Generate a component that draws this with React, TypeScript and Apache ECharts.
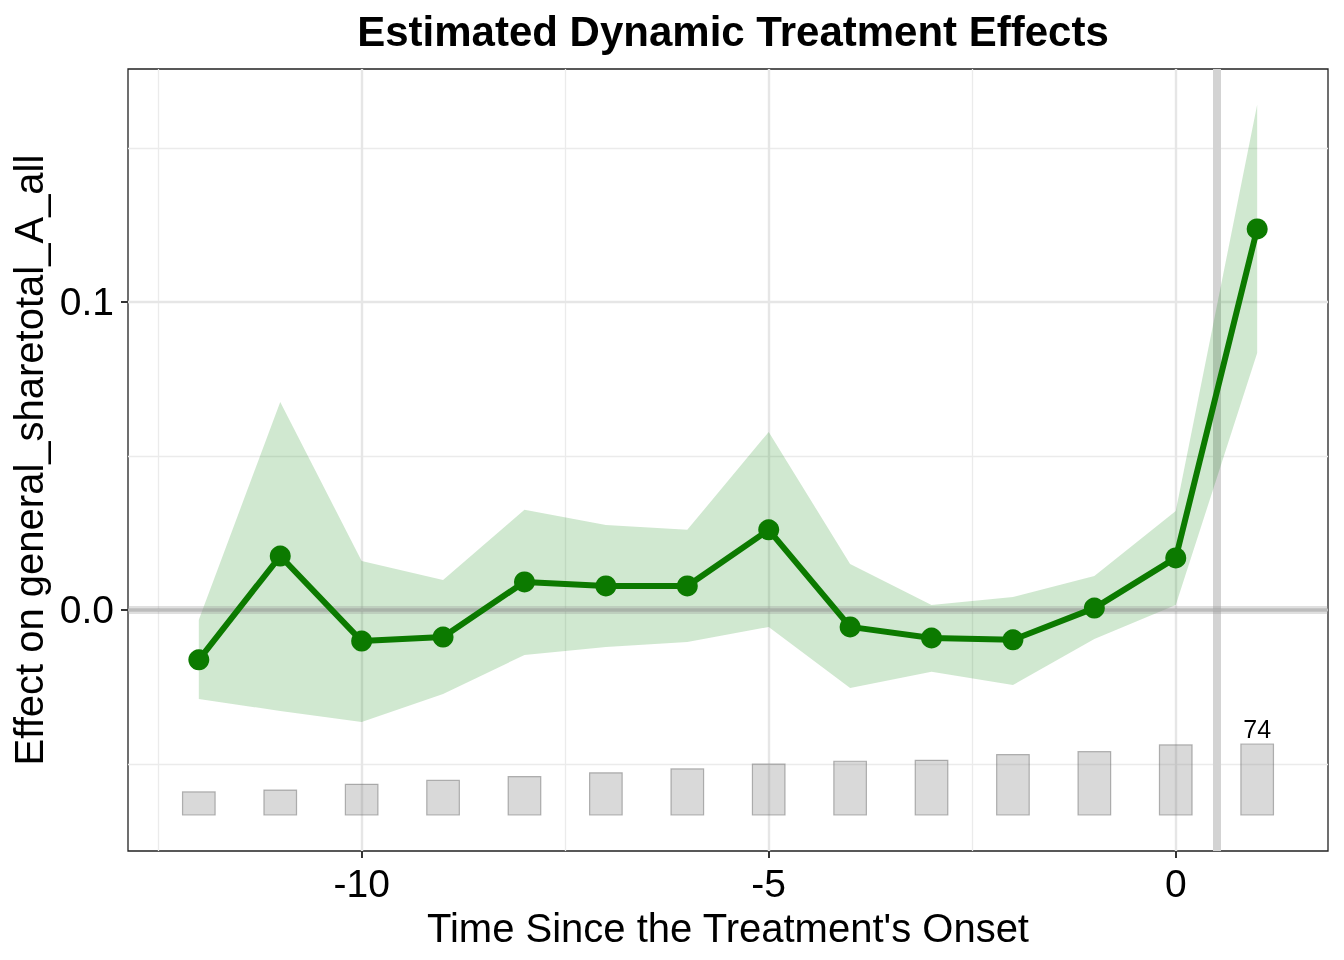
import React, { useEffect, useRef } from "react";
import * as echarts from "echarts";

const times = [-12, -11, -10, -9, -8, -7, -6, -5, -4, -3, -2, -1, 0, 1];
const att = [-0.0162, 0.0175, -0.0101, -0.0088, 0.0091, 0.0078, 0.0078, 0.026, -0.0055, -0.0091, -0.0097, 0.0006, 0.0169, 0.1237];
const ciUpper = [-0.0032, 0.0675, 0.0159, 0.0097, 0.0325, 0.0276, 0.026, 0.0578, 0.0149, 0.0016, 0.0042, 0.011, 0.0321, 0.164];
const ciLower = [-0.0289, -0.0328, -0.0364, -0.0273, -0.0146, -0.012, -0.0104, -0.0055, -0.0253, -0.0201, -0.0244, -0.0094, 0.0016, 0.0834];
const counts = [24, 26, 32, 36, 40, 44, 48, 53, 56, 57, 63, 66, 73, 74];

const xTicks = [-10, -5, 0];
const yTicks = [0, 0.1];
const xMinor = [-12.5, -7.5, -2.5];
const yMinor = [-0.05, 0.05, 0.15];
const treatLine = 0.5;
const zeroLine = 0;

const FONT = "'Liberation Sans', Arial, Helvetica, sans-serif";

export default function App() {
  const ref = useRef<HTMLDivElement>(null);
  useEffect(() => {
    if (!ref.current) return;
    const chart = echarts.init(ref.current, undefined, { renderer: "svg" });
    const maxCount = Math.max(...counts);
    const maxIdx = counts.lastIndexOf(maxCount);
    const gridLines = (vals: number[], axis: "xAxis" | "yAxis", w: number, c: string) =>
      vals.map((v) => ({ [axis]: v, lineStyle: { color: c, width: w, type: "solid" } }));

    chart.setOption({
      animation: false,
      title: {
        text: "Estimated Dynamic Treatment Effects",
        left: 728,
        textAlign: "center",
        top: 5,
        textStyle: { fontFamily: FONT, fontWeight: "bold", fontSize: 42, color: "#000" },
      },
      grid: {
        left: 128,
        right: 16,
        top: 69,
        bottom: 109,
        show: true,
        borderColor: "#222",
        borderWidth: 1.3,
        backgroundColor: "#fff",
      },
      xAxis: {
        type: "value",
        min: -12.87,
        max: 1.87,
        name: "Time Since the Treatment's Onset",
        nameLocation: "middle",
        nameGap: 50,
        nameTextStyle: { fontFamily: FONT, fontSize: 40, color: "#000" },
        axisLine: { show: false, onZero: false },
        axisTick: { show: true, length: 7, lineStyle: { color: "#333", width: 2 }, customValues: xTicks },
        axisLabel: { fontFamily: FONT, fontSize: 39, color: "#000", margin: 13, customValues: xTicks },
        splitLine: { show: false },
      },
      yAxis: [
        {
          type: "value",
          min: -0.07825,
          max: 0.1756,
          name: "Effect on general_sharetotal_A_all",
          nameLocation: "middle",
          nameGap: 79,
          nameTextStyle: { fontFamily: FONT, fontSize: 40, color: "#000" },
          axisLine: { show: false, onZero: false },
          axisTick: { show: true, length: 7, lineStyle: { color: "#333", width: 2 }, customValues: yTicks },
          axisLabel: {
            fontFamily: FONT,
            fontSize: 39,
            color: "#000",
            margin: 14,
            customValues: yTicks,
            formatter: (v: number) => v.toFixed(1),
          },
          splitLine: { show: false },
        },
        {
          type: "value",
          min: -37.52,
          max: 777.5,
          show: false,
          splitLine: { show: false },
        },
      ],
      series: [
        {
          type: "line",
          name: "grid",
          data: [],
          silent: true,
          z: 1,
          markLine: {
            silent: true,
            z: 1,
            symbol: ["none", "none"],
            label: { show: false },
            animation: false,
            data: [
              ...gridLines(xMinor, "xAxis", 1.3, "#ebebeb"),
              ...gridLines(yMinor, "yAxis", 1.3, "#ebebeb"),
              ...gridLines(xTicks, "xAxis", 2.4, "#e6e6e6"),
              ...gridLines(yTicks, "yAxis", 2.4, "#e6e6e6"),
            ],
          },
        },
        {
          type: "line",
          name: "treat",
          data: [],
          silent: true,
          z: 2,
          markLine: {
            silent: true,
            z: 2,
            symbol: ["none", "none"],
            label: { show: false },
            animation: false,
            data: [{ xAxis: treatLine, lineStyle: { color: "#d3d3d3", width: 8, type: "solid" } }],
          },
        },
        {
          type: "custom",
          name: "ci",
          silent: true,
          z: 3,
          clip: true,
          data: [[times[0], att[0]]],
          renderItem: (params: any, api: any) => {
            if (params.dataIndex !== 0) return null;
            const pts: number[][] = [];
            for (let i = 0; i < times.length; i++) pts.push(api.coord([times[i], ciUpper[i]]));
            for (let i = times.length - 1; i >= 0; i--) pts.push(api.coord([times[i], ciLower[i]]));
            return {
              type: "polygon",
              shape: { points: pts },
              style: { fill: "rgba(20,140,20,0.2)", stroke: "none" },
            };
          },
        },
        {
          type: "line",
          name: "zero",
          data: [],
          silent: true,
          z: 4,
          markLine: {
            silent: true,
            z: 4,
            symbol: ["none", "none"],
            label: { show: false },
            animation: false,
            data: [
              { yAxis: zeroLine, lineStyle: { color: "rgba(150,150,150,0.3)", width: 8, type: "solid" } },
              { yAxis: zeroLine, lineStyle: { color: "rgba(150,150,150,0.3)", width: 4, type: "solid" } },
            ],
          },
        },
        {
          type: "custom",
          name: "counts",
          yAxisIndex: 1,
          silent: true,
          z: 5,
          data: times.map((t, i) => [t, counts[i]]),
          renderItem: (params: any, api: any) => {
            const x = api.value(0);
            const c = api.value(1);
            const p0 = api.coord([x - 0.2, c]);
            const p1 = api.coord([x + 0.2, 0]);
            const children: any[] = [
              {
                type: "rect",
                shape: { x: p0[0], y: p0[1], width: p1[0] - p0[0], height: p1[1] - p0[1] },
                style: { fill: "rgba(128,128,128,0.3)", stroke: "rgba(110,110,110,0.5)", lineWidth: 1.2 },
              },
            ];
            if (params.dataIndex === maxIdx) {
              const top = api.coord([x, c]);
              children.push({
                type: "text",
                style: {
                  text: String(c),
                  x: top[0],
                  y: top[1] - 2,
                  align: "center",
                  verticalAlign: "bottom",
                  fontFamily: FONT,
                  fontSize: 25,
                  fill: "#000",
                },
              });
            }
            return { type: "group", children };
          },
        },
        {
          type: "line",
          name: "ATT",
          z: 6,
          data: times.map((t, i) => [t, att[i]]),
          symbol: "circle",
          symbolSize: 21,
          lineStyle: { color: "#0c7a00", width: 6 },
          itemStyle: { color: "#0c7a00" },
          silent: true,
        },
      ],
    });
    return () => chart.dispose();
  }, []);
  return <div ref={ref} style={{ position: "fixed", left: 0, top: 0, width: 1344, height: 960 }} />;
}
